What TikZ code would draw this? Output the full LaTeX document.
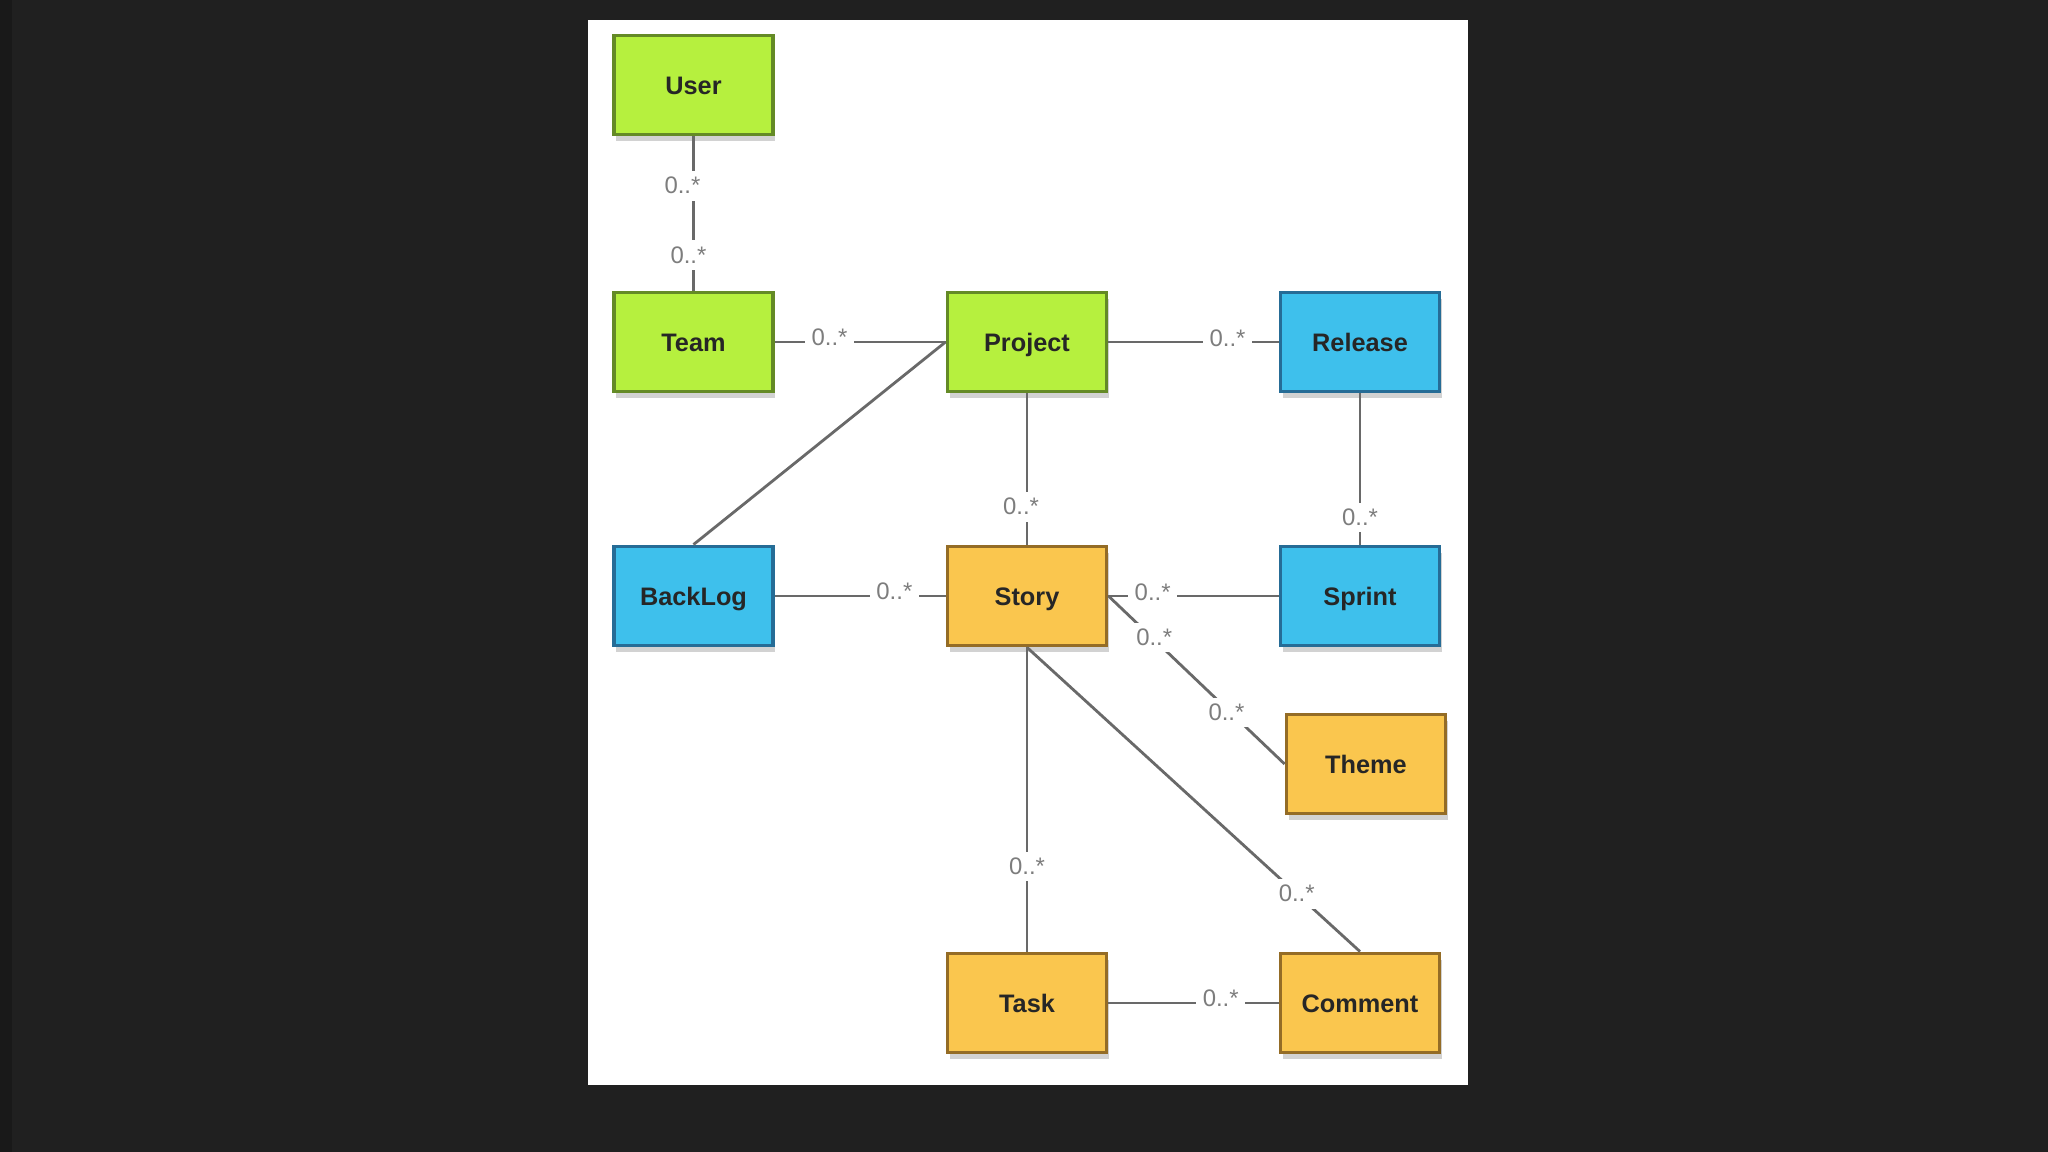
\documentclass[tikz,border=0pt]{standalone}
\usepackage{fontspec}
\setmainfont{Liberation Sans}
\usetikzlibrary{shadows}
\definecolor{boardgray}{RGB}{32,32,32}
\definecolor{limefill}{RGB}{182,240,62}
\definecolor{limeline}{RGB}{100,138,38}
\definecolor{skyfill}{RGB}{62,192,236}
\definecolor{skyline}{RGB}{38,108,150}
\definecolor{amberfill}{RGB}{250,198,78}
\definecolor{amberline}{RGB}{148,108,38}
\definecolor{linkgray}{RGB}{105,105,105}
\definecolor{multgray}{RGB}{125,125,125}
\begin{document}
\begin{tikzpicture}[
 entity/.style={draw, line width=1.1pt, minimum width=1.59cm, minimum height=0.99cm,
  inner sep=0pt, text height=0.72em, text depth=0.2em,
  font=\fontsize{7.2}{9}\selectfont\bfseries, text=black!85,
  drop shadow={shadow xshift=0.02cm, shadow yshift=-0.07cm, opacity=0.35}},
 limebox/.style={entity, fill=limefill, draw=limeline},
 skybox/.style={entity, fill=skyfill, draw=skyline},
 amberbox/.style={entity, fill=amberfill, draw=amberline},
 link/.style={draw=linkgray, line width=0.8pt},
 mult/.style={fill=white, inner sep=1.8pt, text=multgray, font=\fontsize{6.8}{7}\selectfont}]
 \fill[boardgray] (0,0) rectangle (20.48,11.52);
 \fill[black!90] (0,0) rectangle (0.12,11.52);
 \fill[white] (5.88,0.67) rectangle (14.68,11.32);
 \node[limebox] (User) at (6.935,10.67) {User};
 \node[limebox] (Team) at (6.935,8.10) {Team};
 \node[limebox] (Project) at (10.27,8.10) {Project};
 \node[skybox] (Release) at (13.60,8.10) {Release};
 \node[skybox] (BackLog) at (6.935,5.56) {BackLog};
 \node[amberbox] (Story) at (10.27,5.56) {Story};
 \node[skybox] (Sprint) at (13.60,5.56) {Sprint};
 \node[amberbox] (Theme) at (13.66,3.88) {Theme};
 \node[amberbox] (Task) at (10.27,1.49) {Task};
 \node[amberbox] (Comment) at (13.60,1.49) {Comment};
 \draw[link] (User) -- node[mult, pos=0.32, xshift=-0.11cm] (mUT) {0..*}
  node[mult, pos=0.77, xshift=-0.05cm] (mTU) {0..*} (Team);
 \draw[link] (Team) -- node[mult, pos=0.32, yshift=0.05cm] (mTP) {0..*} (Project);
 \draw[link] (Project) -- node[mult, pos=0.70, yshift=0.04cm] (mPR) {0..*} (Release);
 \draw[link] (Project) -- node[mult, pos=0.75, xshift=-0.06cm] (mPS) {0..*} (Story);
 \draw[link] (Release) -- node[mult, pos=0.82] (mRS) {0..*} (Sprint);
 \draw[link] (BackLog.north) -- (Project.west);
 \draw[link] (BackLog) -- node[mult, pos=0.70, yshift=0.05cm] (mBS) {0..*} (Story);
 \draw[link] (Story) -- node[mult, pos=0.26, yshift=0.04cm] (mSS) {0..*} (Sprint);
 \draw[link] (Story.east) -- node[mult, pos=0.26, yshift=0.02cm] (mST) {0..*}
  node[mult, pos=0.67, yshift=-0.04cm] (mTS) {0..*} (Theme.west);
 \draw[link] (Story) -- node[mult, pos=0.72] (mSK) {0..*} (Task);
 \draw[link] (Story.south) -- node[mult, pos=0.81] (mSC) {0..*} (Comment.north);
 \draw[link] (Task) -- node[mult, pos=0.66, yshift=0.05cm] (mKC) {0..*} (Comment);
\end{tikzpicture}
\end{document}
